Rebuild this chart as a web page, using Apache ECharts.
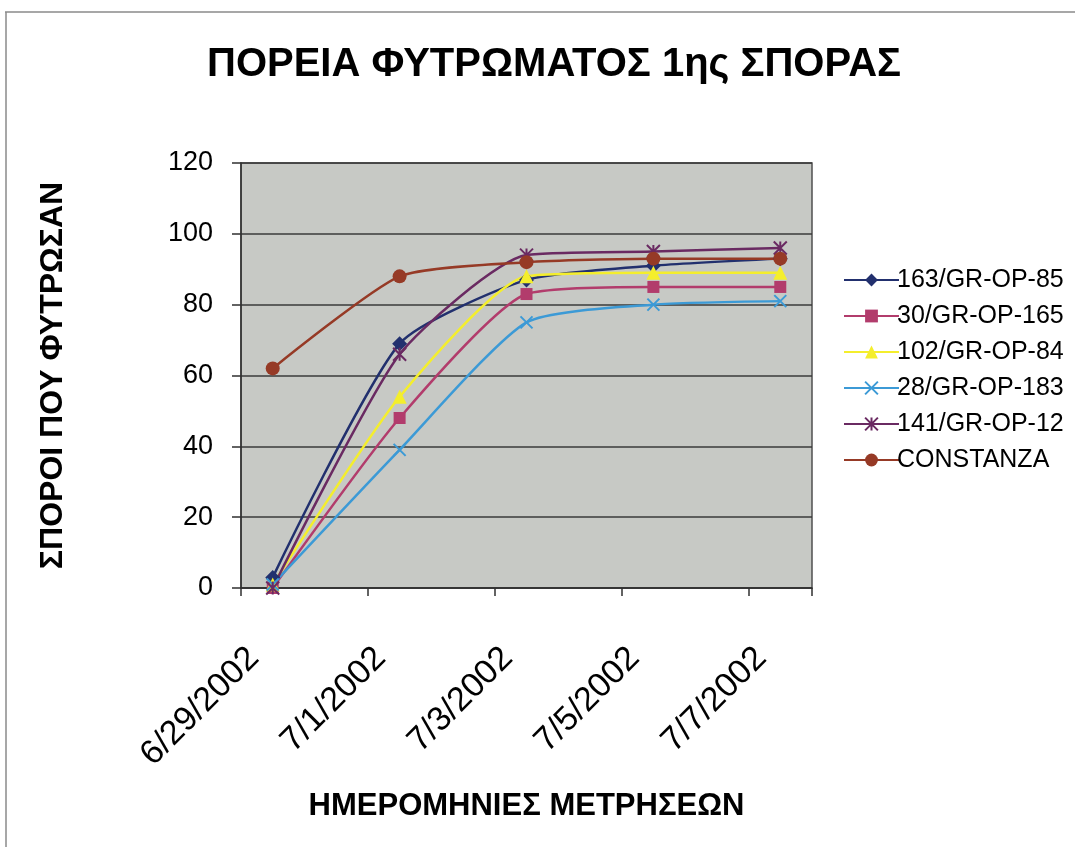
<!DOCTYPE html>
<html>
<head>
<meta charset="utf-8">
<script src="https://cdn.jsdelivr.net/npm/echarts@6/dist/echarts.min.js"></script>
<style>
html,body{margin:0;padding:0;background:#fff;}
#chart{width:1075px;height:847px;}
</style>
</head>
<body>
<div id="chart"></div>
<script>
// Axis days (date axis spans every day; labels every 2nd day)
const axisDays = ['6/29/2002','6/30/2002','7/1/2002','7/2/2002','7/3/2002','7/4/2002','7/5/2002','7/6/2002','7/7/2002'];
// Measurement dates
const measureDates = ['6/29/2002','7/1/2002','7/3/2002','7/5/2002','7/7/2002'];
// Series values (number of seeds that sprouted)
const v163 = [3, 69, 87, 91, 93];
const v30 = [0, 48, 83, 85, 85];
const v102 = [1, 54, 88, 89, 89];
const v28 = [1, 39, 75, 80, 81];
const v141 = [0, 66, 94, 95, 96];
const vConstanza = [62, 88, 92, 93, 93];
const seriesNames = ['163/GR-OP-85','30/GR-OP-165','102/GR-OP-84','28/GR-OP-183','141/GR-OP-12','CONSTANZA'];
const yTicks = [0, 20, 40, 60, 80, 100, 120];

function onAxis(vals){
  return axisDays.map(d => { const i = measureDates.indexOf(d); return i >= 0 ? vals[i] : null; });
}

const styles = [
  {color:'#22306e', symbol:'diamond', size:15},
  {color:'#b23c6c', symbol:'rect', size:12},
  {color:'#f4ee2c', symbol:'triangle', size:14},
  {color:'#3c9ad6', symbol:'path://M0,0 L10,10 M10,0 L0,10', size:12},
  {color:'#6a2a62', symbol:'path://M0,0 L10,10 M10,0 L0,10 M5,0 L5,10', size:13},
  {color:'#963a26', symbol:'circle', size:14}
];
const allVals = [v163, v30, v102, v28, v141, vConstanza];

const series = allVals.map((vals, k) => ({
  name: seriesNames[k],
  type: 'line',
  data: onAxis(vals),
  connectNulls: true,
  smooth: 0.2,
  symbol: styles[k].symbol,
  symbolSize: styles[k].size,
  showAllSymbol: true,
  lineStyle: {color: styles[k].color, width: 2.5},
  itemStyle: {color: styles[k].color, borderColor: styles[k].color, borderWidth: (k===3||k===4)?2:0},
  emphasis: {disabled: true}
}));

const FONT = 'Liberation Sans, Arial, sans-serif';
const chart = echarts.init(document.getElementById('chart'), null, {renderer:'canvas'});
chart.setOption({
  animation: false,
  backgroundColor: '#ffffff',
  title: {
    text: 'ΠΟΡΕΙΑ ΦΥΤΡΩΜΑΤΟΣ 1ης ΣΠΟΡΑΣ',
    left: 202,
    top: 40,
    textStyle: {fontFamily: FONT, fontWeight: 'bold', fontSize: 40, color: '#000'}
  },
  graphic: [
    {type:'line', shape:{x1:5, y1:12, x2:1075, y2:12}, style:{stroke:'#8a8a8a', lineWidth:1.5}},
    {type:'line', shape:{x1:6, y1:12, x2:6, y2:847}, style:{stroke:'#8a8a8a', lineWidth:1.5}}
  ],
  legend: {
    orient: 'vertical',
    left: 838,
    top: 262,
    itemWidth: 55,
    itemHeight: 16,
    itemGap: 10,
    data: seriesNames,
    textStyle: {fontFamily: FONT, fontSize: 25, color: '#000', lineHeight: 26, padding:[0,0,0,-7]}
  },
  grid: {
    left: 241, right: 263, top: 163, bottom: 259,
    show: true,
    backgroundColor: '#c7c9c5',
    borderColor: '#505050',
    borderWidth: 1.5
  },
  xAxis: {
    type: 'category',
    data: axisDays,
    boundaryGap: true,
    name: 'ΗΜΕΡΟΜΗΝΙΕΣ ΜΕΤΡΗΣΕΩΝ',
    nameLocation: 'middle',
    nameGap: 203,
    nameTextStyle: {fontFamily: FONT, fontWeight: 'bold', fontSize: 31, color: '#000'},
    axisLine: {lineStyle: {color: '#303030', width: 1.5}},
    axisTick: {show: true, interval: 1, length: 8, lineStyle: {color: '#303030', width: 1.5}},
    axisLabel: {
      interval: 1,
      rotate: 45,
      margin: 46,
      padding: [0, 27, 0, 0],
      fontFamily: FONT,
      fontSize: 34,
      color: '#000'
    },
    splitLine: {show: false}
  },
  yAxis: {
    type: 'value',
    min: yTicks[0],
    max: yTicks[yTicks.length-1],
    interval: 20,
    name: 'ΣΠΟΡΟΙ ΠΟΥ ΦΥΤΡΩΣΑΝ',
    nameLocation: 'middle',
    nameGap: 172,
    nameTextStyle: {fontFamily: FONT, fontWeight: 'bold', fontSize: 32, color: '#000'},
    axisLine: {show: true, lineStyle: {color: '#303030', width: 1.5}},
    axisTick: {show: true, length: 9, lineStyle: {color: '#303030', width: 1.5}},
    axisLabel: {margin: 28, fontFamily: FONT, fontSize: 27, color: '#000'},
    splitLine: {show: true, lineStyle: {color: '#3a3a3a', width: 1.5}}
  },
  series: series
});
</script>
</body>
</html>
